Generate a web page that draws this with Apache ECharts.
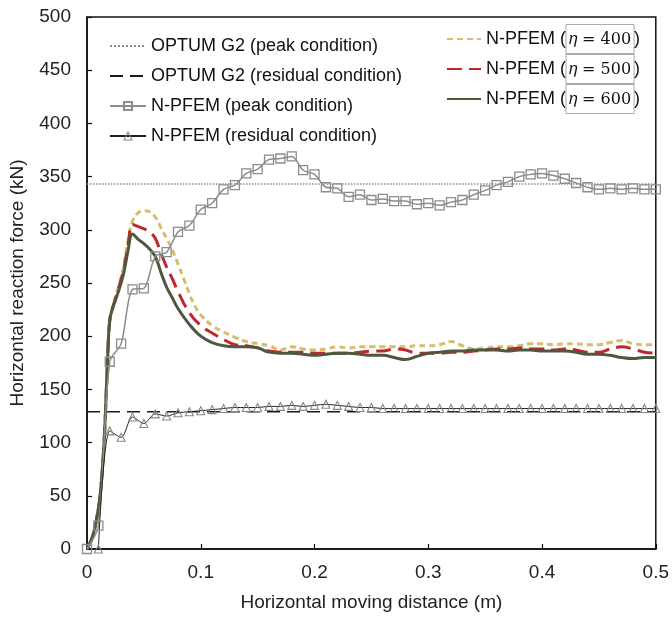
<!DOCTYPE html>
<html><head><meta charset="utf-8">
<script src="https://cdn.jsdelivr.net/npm/echarts@6/dist/echarts.min.js"></script>
<style>html,body{margin:0;padding:0;background:#fff}#c{width:672px;height:617px}</style>
</head><body><div id="c"></div>
<script>
// ---- data ----
var xTicks = [0, 0.1, 0.2, 0.3, 0.4, 0.5];
var optumPeak = 343;
var optumResidual = 129;
var optumX = [0, 0.5];

var peakX = [0,0.01,0.02,0.03,0.04,0.05,0.06,0.07,0.08,0.09,0.1,0.11,0.12,0.13,0.14,0.15,0.16,0.17,0.18,0.19,0.2,0.21,0.22,0.23,0.24,0.25,0.26,0.27,0.28,0.29,0.3,0.31,0.32,0.33,0.34,0.35,0.36,0.37,0.38,0.39,0.4,0.41,0.42,0.43,0.44,0.45,0.46,0.47,0.48,0.49,0.5];
var peakY = [0,22,176,193,244,245,275,279,298,304,319,325,338,342,353,357,366,367,369,356,352,340,339,331,333,328,329,327,327,324,325,323,326,328,333,337,342,345,350,352,353,351,348,344,340,338,339,338,339,338,338];

var resX = [0.01,0.02,0.03,0.04,0.05,0.06,0.07,0.08,0.09,0.1,0.11,0.12,0.13,0.14,0.15,0.16,0.17,0.18,0.19,0.2,0.21,0.22,0.23,0.24,0.25,0.26,0.27,0.28,0.29,0.3,0.31,0.32,0.33,0.34,0.35,0.36,0.37,0.38,0.39,0.4,0.41,0.42,0.43,0.44,0.45,0.46,0.47,0.48,0.49,0.5];
var resY = [0,111,105,124,118,127,125,128,129,130,131,132,133,133,133,134,134,135,134,135,136,135,134,133,133,132,132,132,132,132,132,132,132,132,132,132,132,132,132,132,132,132,132,132,132,132,132,132,132,132];

var e600X = [0,0.005,0.01,0.012,0.015,0.018,0.02,0.023,0.027,0.032,0.036,0.04,0.045,0.05,0.055,0.06,0.065,0.07,0.075,0.08,0.09,0.1,0.11,0.12,0.13,0.14,0.15,0.16,0.17,0.18,0.19,0.2,0.21,0.22,0.23,0.24,0.25,0.26,0.27,0.28,0.29,0.3,0.31,0.32,0.33,0.34,0.35,0.36,0.37,0.38,0.39,0.4,0.41,0.42,0.43,0.44,0.45,0.46,0.47,0.48,0.49,0.5];
var e600Y = [0,12,38,55,100,175,215,228,240,258,280,296,291,287,282,275,260,246,236,226,211,200,194,191,190,190,189,185,184,184,183,182,183,184,184,183,182,182,180,178,181,184,185,186,186,187,187,187,186,187,187,186,186,186,185,183,183,182,180,179,180,180];

var e500X = [0,0.005,0.01,0.012,0.015,0.018,0.02,0.023,0.027,0.032,0.036,0.04,0.045,0.05,0.055,0.06,0.065,0.07,0.075,0.08,0.09,0.1,0.11,0.12,0.13,0.14,0.15,0.16,0.17,0.18,0.19,0.2,0.21,0.22,0.23,0.24,0.25,0.26,0.27,0.28,0.29,0.3,0.31,0.32,0.33,0.34,0.35,0.36,0.37,0.38,0.39,0.4,0.41,0.42,0.43,0.44,0.45,0.46,0.47,0.48,0.49,0.5];
var e500Y = [0,12,38,55,100,175,215,228,242,262,285,305,303,301,298,292,278,265,254,242,222,210,203,197,192,191,189,186,185,185,185,184,184,184,184,185,186,186,188,187,184,184,184,185,185,186,187,188,188,189,188,188,187,188,187,185,185,188,190,188,185,184];

var e400X = [0,0.005,0.01,0.012,0.015,0.018,0.02,0.023,0.027,0.032,0.036,0.04,0.045,0.05,0.055,0.06,0.065,0.07,0.075,0.08,0.085,0.09,0.095,0.1,0.11,0.12,0.13,0.14,0.15,0.16,0.17,0.18,0.19,0.2,0.21,0.22,0.23,0.24,0.25,0.26,0.27,0.28,0.29,0.3,0.31,0.32,0.33,0.34,0.35,0.36,0.37,0.38,0.39,0.4,0.41,0.42,0.43,0.44,0.45,0.46,0.47,0.48,0.49,0.5];
var e400Y = [0,12,38,55,100,175,215,230,244,265,290,308,316,318,317,312,302,292,281,268,254,240,228,220,210,204,199,195,193,191,187,190,188,187,188,190,189,190,190,190,190,190,191,191,192,195,191,188,189,190,190,191,193,193,192,193,193,192,192,194,196,193,192,192];

var names = ['OPTUM G2 (peak condition)','OPTUM G2 (residual condition)','N-PFEM (peak condition)','N-PFEM (residual condition)'];
var etaNames = ['N-PFEM (𝜂 = 400)','N-PFEM (𝜂 = 500)','N-PFEM (𝜂 = 600)'];

function zip(xs, ys){ return xs.map(function(x,i){ return [x, ys[i]]; }); }
var noSym = {color:'rgba(0,0,0,0)',borderWidth:0};
var hollow = {color:'rgba(255,255,255,0)',borderColor:'#888',borderWidth:1.1};

var FONT = 'Liberation Sans, Arial, sans-serif';
var chart = echarts.init(document.getElementById('c'), null, {renderer:'canvas'});
chart.setOption({
  animation:false,
  backgroundColor:'#fff',
  textStyle:{fontFamily:FONT},
  grid:{left:87,right:15,top:17,bottom:68,show:true,borderColor:'#111',borderWidth:1.5,backgroundColor:'transparent'},
  xAxis:{type:'value',min:xTicks[0],max:xTicks[xTicks.length-1],interval:0.1,
    name:'Horizontal moving distance (m)',nameLocation:'middle',nameGap:44,
    nameTextStyle:{fontSize:19,color:'#222',fontFamily:FONT},
    axisLine:{show:true,lineStyle:{color:'#111',width:1.5}},
    axisTick:{show:true,inside:true,length:5,lineStyle:{color:'#111',width:1.2}},
    axisLabel:{fontSize:19,color:'#222',margin:14,fontFamily:FONT,formatter:function(v){return String(+v.toFixed(1));}},
    splitLine:{show:false}},
  yAxis:{type:'value',min:0,max:500,interval:50,
    name:'Horizontal reaction force (kN)',nameLocation:'middle',nameGap:60,
    nameTextStyle:{fontSize:19,color:'#222',fontFamily:FONT},
    axisLine:{show:true,lineStyle:{color:'#111',width:1.5}},
    axisTick:{show:true,inside:true,length:5,lineStyle:{color:'#111',width:1.2}},
    axisLabel:{fontSize:19,color:'#222',margin:16,fontFamily:FONT},
    splitLine:{show:false}},
  legend:[{
    data:[{name:names[0],itemStyle:noSym},{name:names[1],itemStyle:noSym},{name:names[2]},{name:names[3],itemStyle:hollow}],
    orient:'vertical',left:104,top:31,itemWidth:36,itemHeight:10,itemGap:10,
    textStyle:{fontSize:18,color:'#111',fontFamily:FONT,lineHeight:20}
  },{
    data:etaNames.map(function(n){return {name:n,itemStyle:noSym};}),
    orient:'vertical',left:441,top:19,itemWidth:34,itemHeight:10,itemGap:0,
    formatter:function(n){var m=n.match(/^(.*\()(.*)(\))$/);return '{a|'+m[1]+'}{b|'+m[2]+'}{a|'+m[3]+'}';},
    textStyle:{fontSize:18,color:'#111',fontFamily:FONT,
      rich:{a:{fontSize:18,fontFamily:FONT,color:'#111'},
            b:{fontSize:16,fontFamily:'DejaVu Serif, Liberation Serif, serif',color:'#111',borderColor:'#aaa',borderWidth:1,padding:[7,3,6,3]}}}
  }],
  series:[
    {name:names[0],type:'line',data:zip(optumX,[optumPeak,optumPeak]),symbol:'none',lineStyle:{color:'#8a8a8a',width:1.5,type:'dotted'},itemStyle:{color:'#8a8a8a'},z:2},
    {name:names[1],type:'line',data:zip(optumX,[optumResidual,optumResidual]),symbol:'none',lineStyle:{color:'#1a1a1a',width:1.6,type:[13,7]},itemStyle:{color:'#1a1a1a'},z:2},
    {name:etaNames[0],type:'line',data:zip(e400X,e400Y),symbol:'none',smooth:0.4,lineStyle:{color:'#d8bc6c',width:3,type:[6,4]},itemStyle:{color:'#d8bc6c'},z:3},
    {name:etaNames[1],type:'line',data:zip(e500X,e500Y),symbol:'none',smooth:0.4,lineStyle:{color:'#c0272d',width:3,type:[15,7]},itemStyle:{color:'#c0272d'},z:4},
    {name:etaNames[2],type:'line',data:zip(e600X,e600Y),symbol:'none',smooth:0.4,lineStyle:{color:'#4d5840',width:3},itemStyle:{color:'#4d5840'},z:5},
    {name:names[2],type:'line',data:zip(peakX,peakY),symbol:'rect',symbolSize:9,smooth:0.3,
      lineStyle:{color:'#8c8c8c',width:1.5},itemStyle:{color:'rgba(255,255,255,0)',borderColor:'#8c8c8c',borderWidth:1.3},z:6},
    {name:names[3],type:'line',data:zip(resX,resY),symbol:'triangle',symbolSize:8,smooth:0.3,
      lineStyle:{color:'#222',width:1},itemStyle:hollow,z:6}
  ]
});
</script></body></html>
